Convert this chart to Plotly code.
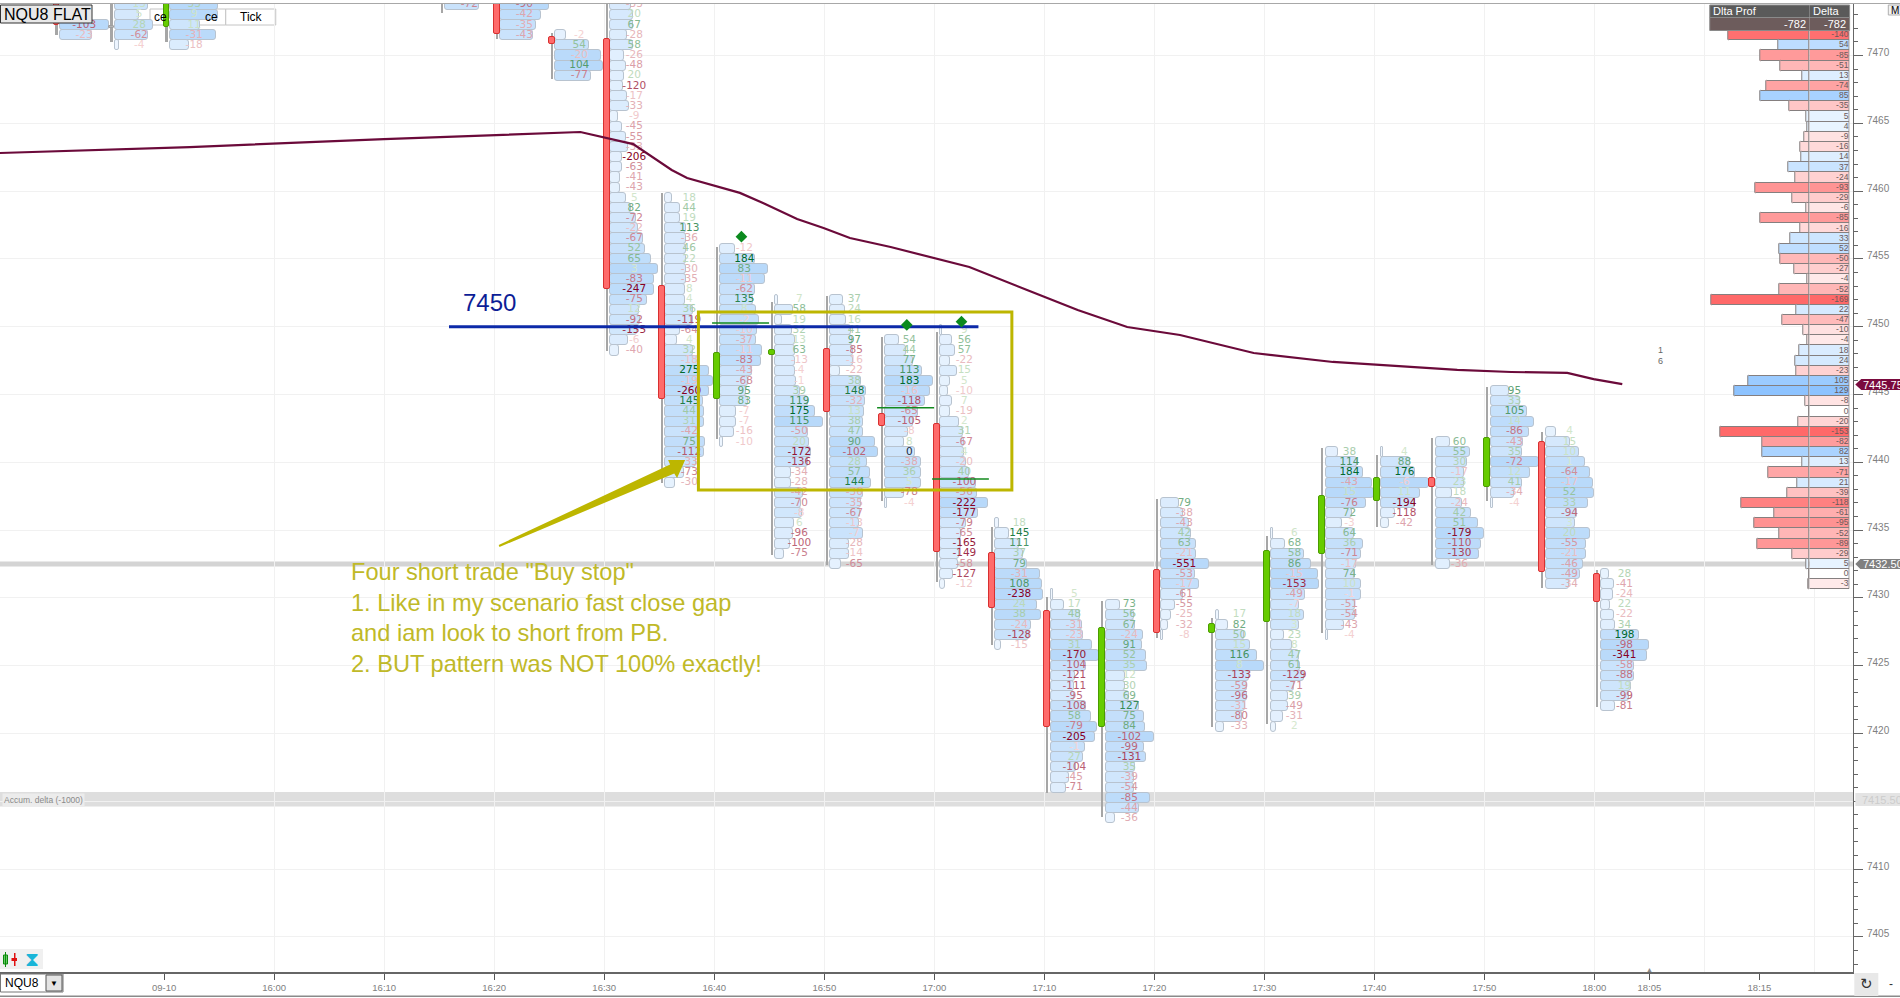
import plotly.graph_objects as go

# candle times in minutes since midnight
times = [940, 945, 950, 975, 980, 985, 990, 995, 1000, 1005, 1010, 1015, 1020, 1025,
         1030, 1035, 1040, 1045, 1050, 1055, 1060, 1065, 1070, 1075, 1080]
opens = [7475, 7472.2, 7472.1, 7475, 7475, 7471.34, 7471.25, 7453.02, 7444.69, 7447.95, 7448.33, 7443.54, 7442.8,
         7433.29, 7429.03, 7420.46, 7432.04, 7427.43, 7428.24, 7433.22, 7437.17, 7438.82, 7438.2, 7441.52, 7431.74]
closes = [7472.25, 7472.0, 7475, 7475, 7471.59, 7470.83, 7452.75, 7444.69, 7448.04, 7448.3, 7443.73, 7442.7, 7433.41,
          7429.23, 7420.46, 7427.76, 7427.43, 7428.05, 7433.48, 7437.54, 7438.82, 7438.2, 7441.77, 7431.93, 7429.68]
highs = [7475, 7475, 7475, 7475, 7475, 7471.66, 7475, 7459.86, 7455.86, 7451.82, 7452.29, 7449.26, 7449.63,
         7435.25, 7430.04, 7429.77, 7437.27, 7428.49, 7434.57, 7441.03, 7440.54, 7441.77, 7445.53, 7442.26, 7432.06]
lows = [7471.51, 7471, 7471, 7473.1, 7471.24, 7468.27, 7448.23, 7438.47, 7441.7, 7433.16, 7432.43, 7437.17, 7431.19,
        7426.52, 7415.64, 7413.87, 7427.04, 7420.46, 7420.7, 7427.43, 7435.2, 7432.43, 7437.17, 7430.71, 7421.94]
top_rows = [7472.25, 7473.75, 7473.75, 7473.75, 7473.75, 7471.5, 7473.75, 7459.5, 7455.75, 7452, 7452, 7449, 7449.75,
            7435.5, 7430.25, 7429.5, 7437, 7428.75, 7434.75, 7440.75, 7440.75, 7441.5, 7445.25, 7442.25, 7431.75]

# footprint rows, top to bottom: delta printed in the row and the volume bar length
delta_rows = [
    [-103, -23],
    [13, 5, 28, -62, -4],
    [33, 9, 11, -31, -18],
    [-72],
    [-90, -42, -35, -43],
    [-2, 54, -20, 104, -77],
    [-33, 20, 67, -28, 58, -26, -48, 20, -120, -17, -33, -9, -45, -55, -33, -206, -63, -41, -43, 5, 82, -72, -22, -67,
     52, 65, 3, -83, -247, -75, 12, -92, -155, -6, -40],
    [18, 44, 19, 113, -36, 46, 22, -30, -35, 8, 4, 36, -119, -64, 4, 32, -18, 275, -19, -260, 145, 44, 31, -42, 75,
     -112, -33, -73, -30],
    [-12, 184, 83, -11, -62, 135, 8, -2, -10, -37, -11, -83, -43, -68, 95, 83, -7, -7, -16, -10],
    [7, 58, 19, 32, 13, 63, -13, -4, -1, 39, 119, 175, 115, -50, 20, -172, -136, -34, -28, -42, -70, -8, 6, -96, -100,
     -75],
    [37, 24, 16, 41, 97, -85, -16, -22, 38, 148, -32, 13, 38, 47, 90, -102, 28, 57, 144, -36, -35, -67, -13, -7, -28,
     -14, -65],
    [54, 44, 77, 113, 183, -16, -118, -65, -105, -8, 8, 0, -38, 36, 5, -78, -4],
    [9, 56, 57, -22, 15, 5, -10, 7, -19, 2, 31, -67, 4, -20, 40, -100, -56, -222, -177, -79, -65, -165, -149, -58,
     -127, -12],
    [18, 145, 111, 37, 79, -31, 108, -238, 24, 38, -24, -128, -15],
    [5, 17, 48, -31, -23, 31, -170, -104, -121, -111, -95, -108, 58, -79, -205, -1, 27, -104, -45, -71],
    [73, 56, 67, -24, 91, 52, 35, 12, 30, 69, 127, 75, 84, -102, -99, -131, 35, -39, -54, -85, -44, -36],
    [79, -38, -43, 42, 63, -21, -551, -53, -17, -61, -55, -25, -32, -8],
    [17, 82, 50, 15, 116, 8, -133, -59, -96, -31, -80, -33],
    [6, 68, 58, 86, -15, -153, -49, -7, 18, 3, 23, 8, 47, 61, -129, -71, 39, -49, -31, 2],
    [38, 114, 184, -43, 15, -76, 72, -3, 64, 36, -71, -17, 74, 10, -1, -51, -54, -43, -4],
    [4, 88, 176, -6, 11, -194, -118, -42],
    [60, 55, 30, -17, 23, 18, -24, 42, 51, -179, -110, -130, -36],
    [95, 33, 105, 14, -86, -43, 35, -72, 12, 41, -34, -4],
    [4, 15, 10, 1, -64, -17, 52, 33, -94, 3, 20, -55, -21, -46, -49, -34],
    [28, -41, -24, 22, -22, 34, 198, -98, -341, -58, -88, 19, -99, -81],
]
volume_rows = [
    [49, 32],
    [33, 24, 38, 33, 4],
    [48, 48, 30, 46, 19],
    [34],
    [49, 41, 36, 33],
    [11, 34, 46, 48, 36],
    [21, 23, 23, 17, 23, 14, 16, 14, 13, 17, 19, 8, 12, 16, 18, 12, 12, 10, 10, 16, 21, 26, 28, 33, 35, 41, 48, 44, 44,
     37, 29, 30, 27, 18, 9],
    [7, 15, 15, 21, 21, 21, 21, 21, 21, 20, 20, 28, 28, 15, 12, 28, 34, 44, 48, 44, 38, 39, 39, 33, 40, 39, 31, 19, 10],
    [15, 35, 48, 45, 35, 33, 36, 39, 37, 36, 42, 41, 32, 28, 26, 28, 16, 16, 14, 3],
    [3, 18, 7, 17, 20, 20, 20, 20, 21, 25, 33, 40, 48, 33, 34, 36, 33, 16, 16, 28, 26, 27, 19, 18, 15, 9],
    [13, 15, 16, 21, 22, 23, 23, 10, 31, 36, 35, 34, 33, 33, 45, 48, 37, 40, 41, 33, 31, 30, 29, 33, 19, 19, 11],
    [14, 21, 28, 37, 48, 45, 40, 33, 28, 23, 19, 30, 36, 36, 36, 19, 2],
    [2, 12, 15, 10, 17, 10, 8, 12, 10, 19, 23, 24, 24, 26, 29, 36, 37, 48, 38, 26, 21, 21, 19, 18, 13, 5],
    [4, 14, 24, 28, 32, 45, 47, 48, 42, 46, 36, 34, 6],
    [2, 13, 29, 31, 32, 41, 48, 35, 24, 23, 23, 35, 40, 46, 44, 34, 32, 25, 18, 15],
    [14, 28, 29, 37, 36, 40, 41, 19, 19, 23, 33, 38, 39, 48, 38, 40, 29, 28, 28, 44, 33, 9],
    [18, 22, 28, 30, 35, 35, 48, 34, 38, 22, 14, 10, 7, 2],
    [3, 12, 28, 34, 41, 48, 33, 31, 31, 29, 26, 8],
    [2, 14, 33, 40, 47, 48, 34, 28, 33, 28, 13, 21, 28, 29, 33, 23, 17, 17, 12, 5],
    [12, 31, 37, 46, 48, 40, 26, 16, 28, 37, 35, 30, 29, 35, 35, 29, 29, 18, 2],
    [2, 29, 34, 48, 39, 34, 14, 8],
    [14, 34, 31, 28, 28, 16, 26, 35, 42, 48, 45, 43, 14],
    [18, 29, 36, 43, 38, 32, 31, 48, 39, 31, 23, 2],
    [10, 24, 33, 39, 44, 47, 48, 42, 31, 29, 44, 40, 40, 37, 34, 23],
    [8, 13, 12, 9, 13, 14, 38, 48, 46, 33, 33, 30, 28, 14],
]

# moving average line
vwap_times = [934.85, 952.1, 969.75, 979.75, 986, 987.6, 992.4, 995.9, 997.3, 1002.1, 1004.2, 1007.3, 1009.7, 1012.1,
              1015.8, 1022.95, 1028.2, 1032.8, 1037.3, 1042.1, 1048.8, 1056, 1067.3, 1072.2, 1077.3, 1079.7, 1082.3]
vwap_prices = [7462.81, 7463.25, 7463.84, 7464.14, 7464.36, 7464.36, 7463.47, 7461.56, 7460.97, 7459.87, 7459.12,
               7457.94, 7457.28, 7456.54, 7455.88, 7454.4, 7452.71, 7451.23, 7449.98, 7449.39, 7448.06, 7447.4,
               7446.81, 7446.66, 7446.59, 7446.14, 7445.77]

# right hand delta profile
profile_prices = [7471.5 - 0.75 * i for i in range(55)]
profile_delta = [-140, 54, -85, -51, 13, -74, 85, -35, 5, 4, -9, -16, 14, 37, -24, -93, -29, -6, -85, -16, 33, 52, -50,
                 -27, -4, -52, -169, 22, -47, -10, -4, 18, 24, -23, 105, 129, -8, 0, -20, -153, -82, 82, 13, -71, 21,
                 -39, -118, -61, -95, -52, -89, -29, 5, 0, -3]

# axis labels
tick_times = [950, 960, 970, 980, 990, 1000, 1010, 1020, 1030, 1040, 1050, 1060, 1070, 1080, 1085, 1095]
tick_labels = ["09-10", "16:00", "16:10", "16:20", "16:30", "16:40", "16:50", "17:00", "17:10", "17:20", "17:30",
               "17:40", "17:50", "18:00", "18:05", "18:15"]
grid_times = [960, 970, 980, 990, 1000, 1010, 1020, 1030, 1040, 1050, 1060, 1070, 1080, 1090, 1100]

note_lines = ['Four short trade "Buy stop"', "1. Like in my scenario fast close gap",
              "and iam look to short from PB.", "2. BUT pattern was NOT 100% exactly!"]
signal_times = [1002.24, 1017.27, 1022.24]
signal_prices = [7456.64, 7450.13, 7450.37]

W, H = 1900, 998
LEFT, RIGHT, TOP, BOTTOM = 0, 1852.7, 4, 972
OLIVE = "#bdb600"
NOTE = "#bfb928"
UI_FONT = "Liberation Sans"


def px(x):
    return (x - LEFT) / (RIGHT - LEFT)


def py(y):
    return 1 - (y - TOP) / (BOTTOM - TOP)


def mix(c0, c1, t):
    t = max(0, min(1, t))
    return "rgb(%d,%d,%d)" % tuple(round(a + (b - a) * t) for a, b in zip(c0, c1))


def text_color(v):
    if v == 0:
        return "#1f2d3d"
    if v > 0:
        return mix((216, 234, 208), (0, 105, 45), v / 170)
    return mix((246, 212, 212), (135, 0, 35), -v / 190)


def bar_color(length):
    return mix((242, 248, 255), (184, 217, 250), length / 48)


def cell_color(v):
    if v == 0:
        return "#ffffff"
    if v > 0:
        return mix((238, 247, 255), (140, 195, 255), (v / 130) ** 0.8)
    return mix((255, 240, 240), (255, 105, 105), (-v / 150) ** 0.8)


fig = go.Figure()

# footprint volume bars, 11 px per minute on the time axis
bar_base, bar_len, bar_y, bar_fill = [], [], [], []
text_x, text_y, text_s, text_c = [], [], [], []
for t, top, deltas, vols in zip(times, top_rows, delta_rows, volume_rows, strict=True):
    for i, (d, v) in enumerate(zip(deltas, vols, strict=True)):
        price = top - 0.75 * i
        bar_base.append(t + 0.33)
        bar_len.append(v / 11)
        bar_y.append(price)
        bar_fill.append(bar_color(v))
        text_x.append(t + 2.5)
        text_y.append(price)
        text_s.append(str(d))
        text_c.append(text_color(d))

fig.add_trace(go.Bar(orientation="h", base=bar_base, x=bar_len, y=bar_y, width=0.75,
                     marker=dict(color=bar_fill, line=dict(color="#b8c3cf", width=1), cornerradius=3),
                     hoverinfo="skip"))

# wicks and bodies
fig.add_trace(go.Bar(x=times, base=lows, y=[h - l for h, l in zip(highs, lows)], width=0.22,
                     marker=dict(color="#a6a6a6", line=dict(width=0)), hoverinfo="skip"))
body_colors, body_lines = [], []
for o, c in zip(opens, closes):
    if abs(o - c) < 0.25 and o < 7473:
        gray = o == 7472.2
        body_colors.append("#b5b5b5" if gray else "#66cc00")
        body_lines.append("#a0a0a0" if gray else "#4b9c00")
    elif c > o:
        body_colors.append("#66cc00")
        body_lines.append("#4b9c00")
    else:
        body_colors.append("#ff6b6b")
        body_lines.append("#d83030")
fig.add_trace(go.Bar(x=times, base=[min(o, c) for o, c in zip(opens, closes)],
                     y=[abs(o - c) for o, c in zip(opens, closes)], width=0.5,
                     marker=dict(color=body_colors, line=dict(color=body_lines, width=1), cornerradius=2),
                     hoverinfo="skip"))

fig.add_trace(go.Scatter(x=text_x, y=text_y, text=text_s, mode="text",
                         textfont=dict(family="DejaVu Sans", size=10.5, color=text_c), hoverinfo="skip"))

fig.add_trace(go.Scatter(x=vwap_times, y=vwap_prices, mode="lines", line=dict(color="#6b0a3a", width=2.2),
                         hoverinfo="skip"))
fig.add_trace(go.Scatter(x=[975.66, 1023.78], y=[7450, 7450], mode="lines", line=dict(color="#0c2aa8", width=3),
                         hoverinfo="skip"))
for x0, x1, level in [(999.57, 1004.75, 7450.27), (1014.57, 1019.75, 7444.03), (1019.57, 1024.73, 7438.77)]:
    fig.add_trace(go.Scatter(x=[x0, x1], y=[level, level], mode="lines", line=dict(color="#128a1e", width=1.5),
                             hoverinfo="skip"))
fig.add_trace(go.Scatter(x=signal_times, y=signal_prices, mode="markers",
                         marker=dict(symbol="diamond", size=9, color="#0b8a1e"), hoverinfo="skip"))

# delta profile and delta column
fig.add_trace(go.Bar(orientation="h", x=[-abs(v) for v in profile_delta], y=profile_prices, width=0.75,
                     xaxis="x2", marker=dict(color=[cell_color(v) for v in profile_delta],
                                             line=dict(color="#857f7f", width=1), cornerradius=1),
                     hoverinfo="skip"))
fig.add_trace(go.Bar(orientation="h", x=[1] * len(profile_delta), y=profile_prices, width=0.75, xaxis="x3",
                     marker=dict(color=[cell_color(v) for v in profile_delta], line=dict(color="#857f7f", width=1)),
                     hoverinfo="skip"))
fig.add_trace(go.Scatter(x=[0.97] * len(profile_delta), y=profile_prices, text=[str(v) for v in profile_delta],
                         mode="text", textposition="middle left", xaxis="x3",
                         textfont=dict(family=UI_FONT, size=8.5, color="#6a5a5a"), hoverinfo="skip"))


def box(x0, y0, x1, y1, fill="rgba(0,0,0,0)", line=None, width=1, layer="above"):
    return dict(type="rect", xref="paper", yref="paper", x0=px(x0), x1=px(x1), y0=py(y0), y1=py(y1),
                fillcolor=fill, line=dict(color=line, width=width if line else 0), layer=layer)


def poly(points, fill, layer="above"):
    d = "M" + " L".join("%.5f %.5f" % (px(x), py(y)) for x, y in points) + " Z"
    return dict(type="path", xref="paper", yref="paper", path=d, fillcolor=fill, line=dict(width=0), layer=layer)


def label(x, y, text, color="#000", size=10, family=UI_FONT, xanchor="left", **kw):
    return dict(xref="paper", yref="paper", x=px(x), y=py(y), text=text, showarrow=False, xanchor=xanchor,
                yanchor="middle", font=dict(family=family, size=size, color=color), **kw)


shapes = [
    # horizontal bands behind the candles
    box(LEFT, 792, RIGHT, 806.5, fill="#dedede", layer="below"),
    box(LEFT, 561.5, RIGHT, 566.5, fill="#d4d4d4", layer="below"),
    # trade box and arrow
    box(698.3, 312, 1011.7, 490, line=OLIVE, width=3),
    poly([(498.6, 545), (670, 464.5), (668, 460), (685, 460), (677, 478), (674.1, 473.5), (499.4, 547)], OLIVE),
    # top strip
    box(0, 0, W, 3, fill="#ffffff"),
    box(0, 3, W, 4, fill="#a8a8a8"),
    # cells hidden behind the first candles
    box(150, 9, 225.7, 25, fill="#ffffff", line="#c4c4c4", layer="below"),
    box(225.7, 9, 275.7, 25, fill="#ffffff", line="#c4c4c4", layer="below"),
    box(0.5, 5, 92, 23, fill="#e8e8e8", line="#333333", width=1),
    # profile header
    box(1709.5, 5, 1849.3, 17.5, fill="#5a5a5a", line="#8a8a8a"),
    box(1709.5, 17.5, 1849.3, 30.5, fill="#6d5c5c", line="#8a8a8a"),
    box(1809, 5, 1809.6, 30.5, fill="#9a9a9a"),
    # right price tags
    poly([(1855, 384.5), (1861, 379), (1900, 379), (1900, 390), (1861, 390)], "#7a0a3e"),
    poly([(1855, 564), (1860, 559), (1900, 559), (1900, 569), (1860, 569)], "#808080"),
    box(1855, 793, 1900, 806, fill="#e4e4e4"),
    # bottom strip
    box(0, 949, 43, 969, fill="#f0f0f0"),
    box(3.5, 955, 7.5, 964, fill="#66cc66", line="#0a8a0a"),
    box(5, 952, 6, 967, fill="#0a8a0a"),
    box(14, 953, 15.5, 966, fill="#e01010"),
    box(11.5, 958, 17, 961, fill="#e01010"),
    box(0, 995.5, W, 997, fill="#8a8a8a"),
    box(0.5, 974, 63, 992, fill="#ffffff", line="#777777"),
    box(46, 975, 62, 991, fill="#e4e4e4", line="#555555"),
    box(1854, 973, 1878, 996, fill="#e8e8e8"),
    box(1888, 5, 1900, 15, fill="#f2f2f2", line="#b0b0b0"),
]

annotations = [
    label(2, 14, "NQU8 FLAT", size=16),
    label(238, 17, "Tick", size=12),
    label(152, 17, "ce", size=12),
    label(203, 17, "ce", size=12),
    label(461, 302.5, "7450", color="#0c1d96", size=24),
    label(1711, 11.5, "Dlta Prof", color="#ffffff", size=11),
    label(1811, 11.5, "Delta", color="#ffffff", size=11),
    label(1808, 24, "-782", color="#ffffff", size=11, xanchor="right"),
    label(1848, 24, "-782", color="#ffffff", size=11, xanchor="right"),
    label(1860.5, 384.5, "7445.75", color="#ffffff", size=11),
    label(1860.5, 564, "7432.50", color="#ffffff", size=11),
    label(1860, 800, "7415.50", color="#cccccc", size=11),
    label(2, 799.5, "Accum. delta (-1000)", color="#8a8a8a", size=8.5, bgcolor="#ececec"),
    label(1660, 350, "1", color="#666666", size=9, xanchor="center"),
    label(1660, 361, "6", color="#666666", size=9, xanchor="center"),
    label(3, 983, "NQU8", size=12),
    label(54, 983, "▼", size=8, xanchor="center"),
    label(32, 959, "⧗", color="#19b5d8", size=20, family="DejaVu Sans", xanchor="center"),
    label(1866, 984, "↻", color="#333333", size=15, family="DejaVu Sans", xanchor="center"),
    label(1891, 984, "-", color="#333333", size=12, xanchor="center"),
    label(1649, 969, "▲", color="#8a8a8a", size=7, xanchor="center"),
    label(1889, 10, "M", size=10),
]
for line, y in zip(note_lines, [571.7, 603, 633, 664]):
    annotations.append(label(349, y, line, color=NOTE, size=23.6))

fig.update_layout(
    width=W, height=H, margin=dict(l=LEFT, r=W - RIGHT, t=TOP, b=H - BOTTOM, pad=0, autoexpand=False),
    paper_bgcolor="#ffffff", plot_bgcolor="rgba(0,0,0,0)", barmode="overlay", showlegend=False,
    shapes=shapes, annotations=annotations, bargap=0,
    xaxis=dict(range=[934.85, 1103.27], domain=[0, 1], tickmode="array", tickvals=[t - 0.23 for t in tick_times],
               ticktext=tick_labels, ticks="outside", ticklen=6, tickcolor="#555555",
               showgrid=False, zeroline=False, showline=True, linecolor="#666666", linewidth=2,
               tickfont=dict(family=UI_FONT, size=9.5, color="#808080"),
               minor=dict(tickmode="array", tickvals=[t - 0.23 for t in grid_times], showgrid=True,
                          gridcolor="#f1f1f1", gridwidth=1, ticks="")),
    xaxis2=dict(domain=[px(1700), px(1809.3)], range=[-187.5, 0], anchor="y", visible=False, fixedrange=True),
    xaxis3=dict(domain=[px(1809.3), px(1849.3)], range=[0, 1], anchor="y", visible=False, fixedrange=True),
    yaxis=dict(range=[7473.8, 7402.41][::-1], side="right", anchor="x", tickmode="linear", tick0=7400, dtick=5,
               ticks="outside", ticklen=9, tickcolor="#666666", showline=True, linecolor="#666666", linewidth=1,
               gridcolor="#f1f1f1", gridwidth=1, zeroline=False, ticklabelshift=-3, ticklabelstandoff=2,
               tickformat="d", tickfont=dict(family=UI_FONT, size=10, color="#808080"),
               minor=dict(dtick=1, ticks="outside", ticklen=4, tickcolor="#666666", showgrid=False)),
)

fig.write_html("out.html", config={"displayModeBar": False},
               post_script="document.body.style.margin='0';document.body.style.overflow='hidden';")
